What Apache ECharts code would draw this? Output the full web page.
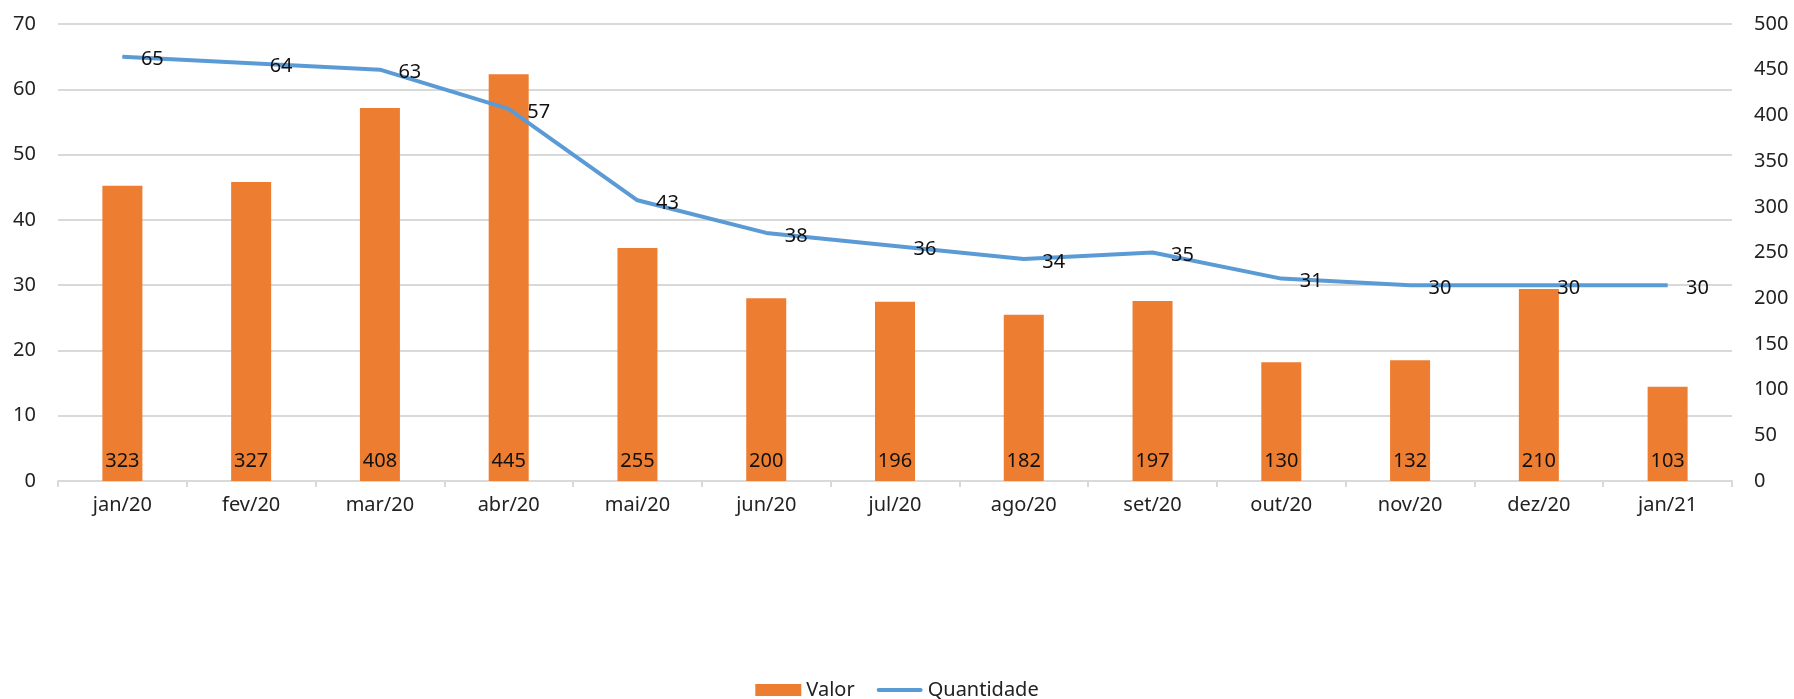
<!DOCTYPE html>
<html>
<head>
<meta charset="utf-8">
<script src="https://cdn.jsdelivr.net/npm/echarts@6/dist/echarts.min.js"></script>
<style>
  html, body { margin: 0; padding: 0; background: #fff; }
  #chart { width: 1794px; height: 699px; }
</style>
</head>
<body>
<div id="chart"></div>
<script>
const meses = ['jan/20', 'fev/20', 'mar/20', 'abr/20', 'mai/20', 'jun/20', 'jul/20',
  'ago/20', 'set/20', 'out/20', 'nov/20', 'dez/20', 'jan/21']
const valor = [323, 327, 408, 445, 255, 200, 196, 182, 197, 130, 132, 210, 103]
const quantidade = [65, 64, 63, 57, 43, 38, 36, 34, 35, 31, 30, 30, 30]

const fonte = 'Noto Sans, sans-serif'
const mychart = echarts.init(document.getElementById('chart'))
mychart.setOption({
  animation: false,
  textStyle: { fontFamily: fonte },
  grid: { left: 58, right: 62, top: 24, bottom: 218, containLabel: false },
  legend: {
    bottom: -6,
    left: 'center',
    itemWidth: 46,
    itemHeight: 12,
    itemGap: 22,
    textStyle: { fontSize: 20, color: '#222', fontFamily: fonte },
    data: [
      { name: 'Valor', icon: 'rect' },
      { name: 'Quantidade', icon: 'path://M2,0 L44,0 A2,2 0 0 1 44,4 L2,4 A2,2 0 0 1 2,0 Z' }
    ]
  },
  xAxis: {
    type: 'category',
    data: meses,
    axisLine: { lineStyle: { color: '#d9d9d9', width: 2 } },
    axisTick: { show: true, length: 6, lineStyle: { color: '#d9d9d9', width: 2 } },
    axisLabel: { fontSize: 20, color: '#222', margin: 14 }
  },
  yAxis: [
    {
      type: 'value',
      min: 0, max: 70, interval: 10,
      axisLine: { show: false },
      axisTick: { show: false },
      axisLabel: { fontSize: 20, color: '#222', margin: 22 },
      splitLine: { lineStyle: { color: '#d9d9d9', width: 2 } }
    },
    {
      type: 'value',
      min: 0, max: 500, interval: 50,
      position: 'right',
      axisLine: { show: false },
      axisTick: { show: false },
      axisLabel: { fontSize: 20, color: '#222', margin: 22 },
      splitLine: { show: false }
    }
  ],
  series: [
    {
      name: 'Valor',
      type: 'bar',
      yAxisIndex: 1,
      data: valor,
      barWidth: 40,
      itemStyle: { color: '#ED7D31' },
      label: {
        show: true,
        position: 'insideBottom',
        distance: 10,
        fontSize: 20,
        color: '#111'
      }
    },
    {
      name: 'Quantidade',
      type: 'line',
      yAxisIndex: 0,
      data: quantidade,
      symbol: 'circle',
      symbolSize: 1,
      showSymbol: true,
      lineStyle: { color: '#5B9BD5', width: 4 },
      itemStyle: { color: '#5B9BD5' },
      label: {
        show: true,
        position: 'right',
        distance: 18,
        offset: [0, 3],
        fontSize: 20,
        color: '#111'
      },
      z: 3
    }
  ]
})
</script>
</body>
</html>
